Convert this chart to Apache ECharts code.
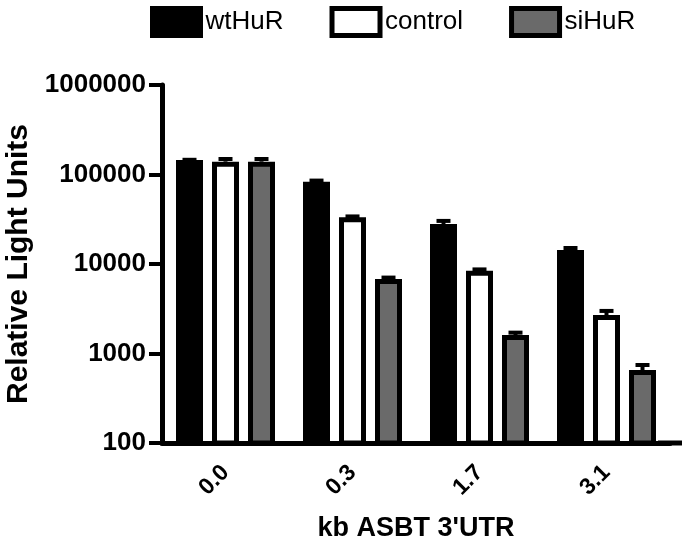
<!DOCTYPE html>
<html><head><meta charset="utf-8">
<script src="https://cdn.jsdelivr.net/npm/echarts/dist/echarts.min.js"></script>
<style>html,body{margin:0;padding:0;background:#fff}#c{width:700px;height:546px}</style>
</head><body><div id="c"></div>
<script>
// ---- data ----
const categories = ['0.0', '0.3', '1.7', '3.1'];
const seriesNames = ['wtHuR', 'control', 'siHuR'];
const wtHuR = [145000, 83000, 28000, 14300];
const control = [139000, 33200, 8400, 2690];
const siHuR = [139000, 6800, 1610, 654];
const wtHuRErr = [1000, 2500, 2300, 800];
const controlErr = [10000, 800, 300, 300];
const siHuRErr = [10000, 250, 100, 90];
const yTickLabels = ['100', '1000', '10000', '100000', '1000000'];

// ---- style ----
const FONT = "'Liberation Sans', Arial, Helvetica, sans-serif";
const BAR_W = 27;
const BAR_GAP_RATIO = 9 / 27;
const CAP = 14;
const fills = ['#000000', '#ffffff', '#6a6a6a'];
const values = [wtHuR, control, siHuR];
const errs = [wtHuRErr, controlErr, siHuRErr];

const chart = echarts.init(document.getElementById('c'), null, {renderer: 'canvas'});

function errRender(offsetIdx) {
  return function (params, api) {
    const x = api.value(0), v = api.value(1), e = api.value(2);
    const base = api.coord([x, v]);
    const top = api.coord([x, v + e]);
    const cx = base[0] + offsetIdx * BAR_W * (1 + BAR_GAP_RATIO);
    return {
      type: 'group',
      children: [
        {type: 'line', shape: {x1: cx, y1: base[1], x2: cx, y2: top[1]}, style: {stroke: '#000', lineWidth: 4}},
        {type: 'line', shape: {x1: cx - CAP / 2, y1: top[1], x2: cx + CAP / 2, y2: top[1]}, style: {stroke: '#000', lineWidth: 4}}
      ]
    };
  };
}

const series = [];
seriesNames.forEach((name, i) => {
  series.push({
    name: name,
    type: 'bar',
    data: values[i],
    barWidth: BAR_W,
    barGap: (BAR_GAP_RATIO * 100) + '%',
    itemStyle: {color: fills[i], borderColor: '#000', borderWidth: 5},
    emphasis: {disabled: true},
    z: 2
  });
});
seriesNames.forEach((name, i) => {
  series.push({
    name: name + ' error',
    type: 'custom',
    renderItem: errRender(i - 1),
    data: categories.map((c, k) => [k, values[i][k], errs[i][k]]),
    encode: {x: 0, y: 1},
    z: 3,
    silent: true
  });
});

chart.setOption({
  animation: false,
  backgroundColor: '#fff',
  textStyle: {fontFamily: FONT},
  legend: {
    data: seriesNames,
    left: 145,
    top: 1,
    itemWidth: 48,
    itemHeight: 27,
    itemGap: 46,
    icon: 'rect',
    itemStyle: {borderColor: '#000', borderWidth: 5},
    textStyle: {fontFamily: FONT, fontSize: 26, color: '#000'}
  },
  grid: {left: 162, top: 85, width: 508, bottom: 103, containLabel: false, outerBoundsMode: 'none'},
  xAxis: {
    type: 'category',
    data: categories,
    name: "kb ASBT 3'UTR",
    nameLocation: 'middle',
    nameGap: 72,
    nameTextStyle: {fontFamily: FONT, fontSize: 27, fontWeight: 'bold', color: '#000'},
    axisLine: {
      lineStyle: {color: '#000', width: 5},
      symbol: ['none', 'rect'],
      symbolSize: [5, 24],
      symbolOffset: [0, 0]
    },
    axisTick: {alignWithLabel: true, length: 12, lineStyle: {color: '#000', width: 4}},
    axisLabel: {rotate: 45, margin: 26, fontFamily: FONT, fontSize: 23, fontWeight: 'bold', color: '#000'}
  },
  yAxis: {
    type: 'log',
    logBase: 10,
    min: 100,
    max: 1000000,
    name: 'Relative Light Units',
    nameLocation: 'middle',
    nameGap: 124,
    nameTextStyle: {fontFamily: FONT, fontSize: 30, fontWeight: 'bold', color: '#000'},
    axisLine: {show: true, lineStyle: {color: '#000', width: 5}},
    axisTick: {show: true, length: 13, lineStyle: {color: '#000', width: 4}},
    minorTick: {show: false},
    splitLine: {show: false},
    axisLabel: {
      margin: 16,
      fontFamily: FONT, fontSize: 26, fontWeight: 'bold', color: '#000',
      formatter: v => yTickLabels[Math.round(Math.log10(v)) - 2]
    }
  },
  series: series
});
</script></body></html>
